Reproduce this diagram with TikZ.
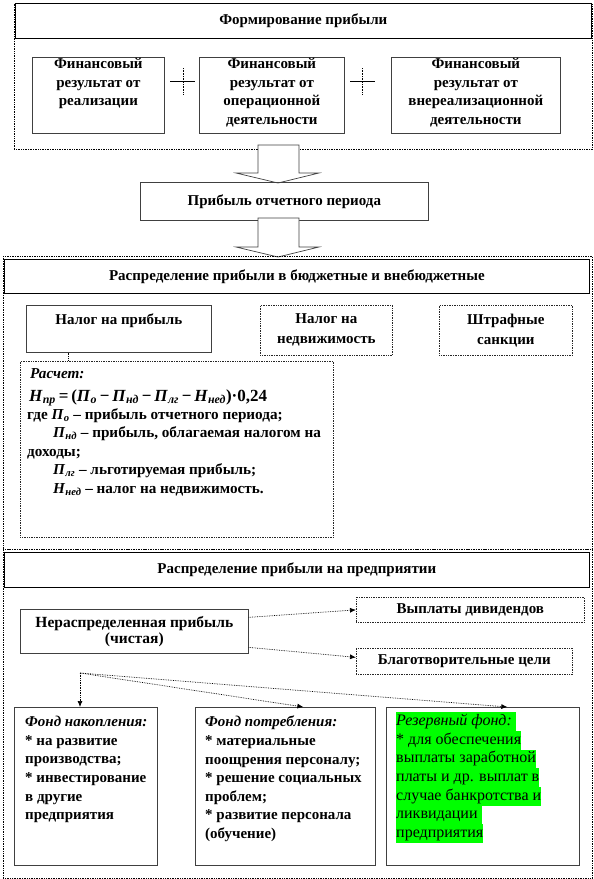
\documentclass[tikz,border=0pt]{standalone}
\usepackage{fontspec}
\setmainfont{Liberation Serif}
\usetikzlibrary{arrows.meta}
\definecolor{hl}{RGB}{0,255,0}
\setlength{\fboxsep}{0pt}
\tikzset{
  x=1pt, y=-1pt,
  box/.style={rectangle, inner sep=0pt, anchor=north west},
  outerbox/.style={box, draw=black, densely dotted, line width=0.7pt},
  titlebox/.style={box, draw=black, line width=0.7pt, font=\fontsize{15}{18.7}\selectfont\bfseries},
  ibox/.style={box, draw=black!75, line width=0.7pt},
  dbox/.style={box, draw=black!85, densely dotted, line width=0.7pt},
  bt/.style={font=\fontsize{15}{18.7}\selectfont\bfseries, align=center, inner sep=0pt},
  lt/.style={font=\fontsize{15}{18.6}\selectfont\bfseries, align=left, inner sep=0pt, anchor=north west},
  ct/.style={font=\fontsize{15.2}{19}\selectfont\bfseries, inner sep=0pt, anchor=base west},
  conn/.style={draw=black, densely dotted, line width=0.7pt, -{Latex[length=6pt,width=5pt]}},
  cline/.style={draw=black, densely dotted, line width=0.7pt},
  barrow/.style={draw=black!75, fill=white, line width=0.7pt},
  plus/.style={draw=black, line width=0.6pt}
}
\begin{document}
\begin{tikzpicture}
\useasboundingbox (0,0) rectangle (594,879);
% ---------- section 1
\node[outerbox, minimum width=578pt, minimum height=146pt] (s1) at (14,3) {};
\node[titlebox, minimum width=576pt, minimum height=35pt] (t1) at (15,3) {Формирование прибыли};
\node[ibox, minimum width=132pt, minimum height=76pt] (f1) at (32,57) {};
\node[ibox, minimum width=145pt, minimum height=76pt] (f2) at (199,57) {};
\node[ibox, minimum width=169pt, minimum height=76pt] (f3) at (391,57) {};
\node[bt, anchor=north] (f1t) at ([yshift=-1pt]f1.north) {Финансовый\\результат от\\реализации};
\node[bt, anchor=north] (f2t) at ([yshift=-1pt]f2.north) {Финансовый\\результат от\\операционной\\деятельности};
\node[bt, anchor=north] (f3t) at ([yshift=-1pt]f3.north) {Финансовый\\результат от\\внереализационной\\деятельности};
\draw[plus] (170,81) -- (195,81);
\draw[plus, densely dotted] (183,68) -- (183,94);
\draw[plus] (350,81) -- (375,81);
\draw[plus, densely dotted] (362,68) -- (362,94);
% ---------- block arrows
\draw[barrow] (258,145) -- (299,145) -- (299,173) -- (319,173) -- (278,183) -- (236,173) -- (258,173) -- cycle;
\node[ibox, minimum width=288pt, minimum height=38pt, bt] (pr) at (140,182) {Прибыль отчетного периода};
\draw[barrow] (258,218) -- (299,218) -- (299,247) -- (319,247) -- (278,257) -- (236,247) -- (258,247) -- cycle;
% ---------- section 2
\node[outerbox, minimum width=589pt, minimum height=293pt] (s2) at (3,256) {};
\node[titlebox, minimum width=585pt, minimum height=34pt] (t2) at (4,259) {Распределение прибыли в бюджетные и внебюджетные};
\node[ibox, minimum width=185pt, minimum height=47pt] (n1) at (26,305) {};
\node[bt, anchor=base] (n1t) at ([yshift=-19.5pt]n1.north) {Налог на прибыль};
\node[dbox, minimum width=132pt, minimum height=50pt, bt, font=\fontsize{15}{20}\selectfont\bfseries] (n2) at (260,305) {Налог на\\недвижимость};
\node[dbox, minimum width=133pt, minimum height=50pt, bt, font=\fontsize{15}{20}\selectfont\bfseries] (n3) at (439,305) {Штрафные\\санкции};
\node[dbox, minimum width=313pt, minimum height=176pt] (calc) at (20,361) {};
\coordinate (cx) at (68,0);
\draw[cline] (n1.south -| cx) -- (calc.north -| cx);
\node[ct] (c1) at (30,378) {\textit{Расчет:}};
\node[ct, font=\fontsize{17}{20}\selectfont\bfseries] (c2) at (29,401) {\textit{Н}\textsubscript{\textit{пр}}\,=\,(\textit{П}\textsubscript{\textit{о}}\,−\,\textit{П}\textsubscript{\textit{нд}}\,−\,\textit{П}\textsubscript{\textit{лг}}\,−\,\textit{Н}\textsubscript{\textit{нед}})·0,24};
\node[ct] (c3) at (27,419) {где \textit{П}\textsubscript{\textit{о}} – прибыль отчетного периода;};
\node[ct] (c4) at (53,437.5) {\textit{П}\textsubscript{\textit{нд}} – прибыль, облагаемая налогом на};
\node[ct] (c5) at (27,456) {доходы;};
\node[ct] (c6) at (53,474.5) {\textit{П}\textsubscript{\textit{лг}} – льготируемая прибыль;};
\node[ct] (c7) at (53,493) {\textit{Н}\textsubscript{\textit{нед}} – налог на недвижимость.};
% ---------- section 3
\node[outerbox, minimum width=589pt, minimum height=329pt] (s3) at (3,549) {};
\node[titlebox, minimum width=585pt, minimum height=35pt] (t3) at (4,552) {Распределение прибыли на предприятии};
\node[ibox, minimum width=228pt, minimum height=44pt, bt, font=\fontsize{15.5}{15.5}\selectfont\bfseries] (np) at (20,609) {Нераспределенная прибыль\\(чистая)};
\node[dbox, minimum width=228pt, minimum height=25pt, bt] (vd) at (356,597) {Выплаты дивидендов};
\node[dbox, minimum width=216pt, minimum height=26pt, bt] (bc) at (356,648) {Благотворительные цели};
\draw[conn] ([yshift=14pt]np.east) -- (vd.west);
\draw[conn] ([yshift=-16pt]np.east) -- ([yshift=4pt]bc.west);
\node[ibox, minimum width=143pt, minimum height=158pt] (fa) at (14,707) {};
\node[ibox, minimum width=180pt, minimum height=158pt] (fp) at (195,707) {};
\node[ibox, minimum width=193pt, minimum height=158pt] (fr) at (386,707) {};
\coordinate (fan) at (80,673);
\draw[conn] (fan) -- (fan |- fa.north);
\draw[conn] (fan) -- ([xshift=18pt]fp.north);
\draw[conn] (fan) -- ([xshift=24.5pt]fr.north);
\node[lt] (fat) at (25,716) {\textit{Фонд накопления:}\\* на развитие\\производства;\\* инвестирование\\в другие\\предприятия};
\node[lt] (fpt) at (205,716) {\textit{Фонд потребления:}\\* материальные\\поощрения персоналу;\\* решение социальных\\проблем;\\* развитие персонала\\(обучение)};
\node[box, align=left, font=\fontsize{16}{18.7}\selectfont] (frt) at (396,712) {\colorbox{hl}{\strut\textit{Резервный фонд:}\ }\\\colorbox{hl}{\strut* для обеспечения}\\\colorbox{hl}{\strut выплаты заработной}\\\colorbox{hl}{\strut платы и др. выплат в}\\\colorbox{hl}{\strut случае банкротства и}\\\colorbox{hl}{\strut ликвидации\ }\\\colorbox{hl}{\strut предприятия}};
\end{tikzpicture}
\end{document}
